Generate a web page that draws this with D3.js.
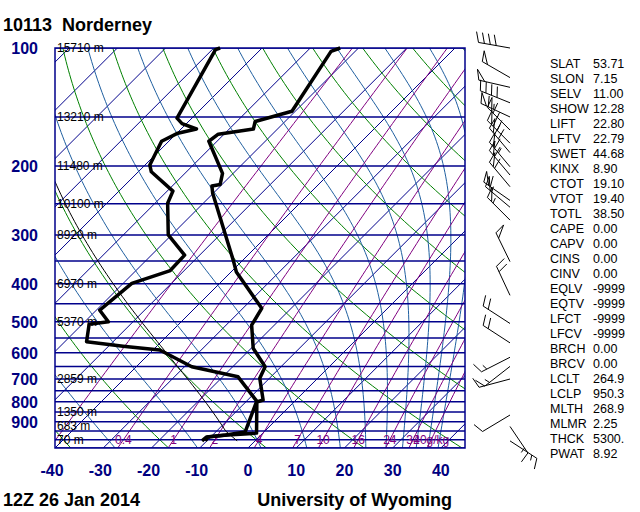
<!DOCTYPE html>
<html>
<head>
<meta charset="utf-8">
<script src="https://cdn.jsdelivr.net/npm/d3@7"></script>
<style>
body { margin: 0; background: #fff; }
text { font-family: "Liberation Sans", Arial, sans-serif; }
</style>
</head>
<body>
<div id="skewt"></div>
<script>
var w = 640;
var h = 512;

// sounding (hPa, degC)
var tempPres = [100, 102, 145, 154, 161, 166, 173, 209, 223, 225, 235, 348, 373, 462, 510, 584, 651, 697, 792, 801, 962, 967, 973, 984, 1007];
var tempVals = [-63.8, -65.0, -60.7, -66.2, -65.0, -71.2, -71.7, -62.2, -60.4, -61.8, -60.1, -42.0, -38.9, -26.1, -24.7, -19.6, -13.3, -12.0, -6.8, -7.7, -1.3, -3.6, -7.0, -10.6, -10.3];
var dewPres = [100, 101, 151, 156, 161, 165, 173, 199, 207, 232, 249, 300, 338, 370, 399, 467, 500, 507, 562, 577, 590, 651, 691, 797, 956, 973, 984, 1007];
var dewVals = [-88.7, -89.3, -83.1, -80.9, -76.8, -79.8, -81.5, -79.0, -77.3, -68.8, -67.4, -60.7, -53.1, -52.9, -58.2, -59.3, -55.1, -58.6, -55.5, -47.0, -38.6, -28.5, -16.8, -7.9, -3.9, -7.3, -10.9, -11.0];

// winds: pressure (hPa), direction (deg), speed (kt)
var windPres = [100, 119, 126, 138, 150, 162, 175, 185, 201, 211, 226, 245, 255, 275, 351, 428, 505, 566, 616, 650, 700, 865, 925, 1007];
var windDir  = [280, 300, 283, 292, 295, 315, 315, 320, 320, 320, 320, 305, 310, 315, 334, 335, 303, 303, 243, 232, 255, 239, 146, 123];
var windSpd  = [40, 50, 50, 40, 65, 65, 70, 70, 65, 60, 60, 60, 55, 55, 50, 20, 20, 20, 15, 15, 10, 10, 15, 15];

// axis labels
var pressureTicks = [100, 200, 300, 400, 500, 600, 700, 800, 900];
var tempTicks = [-40, -30, -20, -10, 0, 10, 20, 30, 40];
var heightPres = [100, 150, 200, 250, 300, 400, 500, 700, 850, 925, 1000];
var heightVals = ["15710", "13210", "11480", "10100", "8920", "6970", "5370", "2859", "1350", "683", "70"];

// background lines
var isobars = [100, 150, 200, 250, 300, 350, 400, 450, 500, 550, 600, 650, 700, 750, 800, 850, 900, 950, 1000, 1050];
var isotherms = [-120, -110, -100, -90, -80, -70, -60, -50, -40, -30, -20, -10, 0, 10, 20, 30, 40];
var dryAdiabats = [-40, -20, 0, 20, 40, 60, 80, 100, 120, 140, 160, 180]; // theta, degC
var moistAdiabats = [243.15, 263.15, 283.15, 303.15, 323.15, 343.15, 363.15, 383.15, 403.15, 423.15, 443.15]; // theta-e, K
var mixingRatios = [0.1, 0.4, 1, 2, 4, 7, 10, 16, 24, 32, 40];
var mixingLabels = [0.4, 1, 2, 4, 7, 10, 16, 24, 32, 40];

// station indices
var statNames = ["SLAT", "SLON", "SELV", "SHOW", "LIFT", "LFTV", "SWET", "KINX", "CTOT", "VTOT", "TOTL", "CAPE", "CAPV", "CINS", "CINV", "EQLV", "EQTV", "LFCT", "LFCV", "BRCH", "BRCV", "LCLT", "LCLP", "MLTH", "MLMR", "THCK", "PWAT"];
var statValues = ["53.71", "7.15", "11.00", "12.28", "22.80", "22.79", "44.68", "8.90", "19.10", "19.40", "38.50", "0.00", "0.00", "0.00", "0.00", "-9999", "-9999", "-9999", "-9999", "0.00", "0.00", "264.9", "950.3", "268.9", "2.25", "5300.", "8.92"];

var parcelStart = 1007, parcelTheta = 268.9, parcelLcl = 950.3;

var margin = {top: 48, right: 175, bottom: 64, left: 55},
    width = w - margin.left - margin.right,
    height = h - margin.top - margin.bottom;

var svg = d3.select("#skewt").append("svg")
    .attr("width", w)
    .attr("height", h);

var g = svg.append("g")
    .attr("transform", "translate(" + margin.left + "," + margin.top + ")");

var y = d3.scaleLog().domain([100, 1050]).range([0, height]);
var x = d3.scaleLinear().domain([-40, 45]).range([0, width]);

// skewed x: isotherms lean 45 degrees
function sx(t, p) { return x(t) + height - y(p); }

var pSteps = d3.range(0, 91).map(function(i) { return 1050 * Math.pow(100 / 1050, i / 90); });

function thetaE(tk, p) {
  var tc = tk - 273.15,
      es = 6.112 * Math.exp(17.67 * tc / (tc + 243.5));
  if (es > p * 0.3) return 1e4;
  var ws = 0.622 * es / (p - es);
  return tk * Math.pow(1000 / p, 0.2857) * Math.exp(2.5e6 * ws / (1004 * tk));
}
function satT(te, p) {
  var lo = 120, hi = 340;
  for (var i = 0; i < 40; i++) {
    var mid = (lo + hi) / 2;
    if (thetaE(mid, p) > te) hi = mid; else lo = mid;
  }
  return (lo + hi) / 2 - 273.15;
}
function tdFromW(wr, p) {
  var e = wr * p / (622 + wr), L = Math.log(e / 6.112);
  return 243.5 * L / (17.67 - L);
}

var line = d3.line()
    .x(function(d) { return sx(d.t, d.p); })
    .y(function(d) { return y(d.p); });

svg.append("defs").append("clipPath").attr("id", "clip")
  .append("rect").attr("width", width).attr("height", height);

var bg = g.append("g").attr("clip-path", "url(#clip)");

// isotherms
bg.selectAll(".isotherm")
  .data(isotherms)
  .enter().append("line")
    .attr("x1", function(d) { return sx(d, 1050); })
    .attr("y1", y(1050))
    .attr("x2", function(d) { return sx(d, 100); })
    .attr("y2", y(100))
    .attr("stroke", "#00008b")
    .attr("stroke-width", 1);

// dry adiabats
bg.selectAll(".dry")
  .data(dryAdiabats)
  .enter().append("path")
    .attr("fill", "none")
    .attr("stroke", "#008000")
    .attr("stroke-width", 1)
    .attr("d", function(th) {
      return line(pSteps.map(function(p) {
        return {p: p, t: (th + 273.15) * Math.pow(p / 1000, 0.2857) - 273.15};
      }));
    });

// moist adiabats
bg.selectAll(".moist")
  .data(moistAdiabats)
  .enter().append("path")
    .attr("fill", "none")
    .attr("stroke", "#1f5fa0")
    .attr("stroke-width", 1)
    .attr("d", function(te) {
      return line(pSteps.map(function(p) { return {p: p, t: satT(te, p)}; }));
    });

// mixing ratio lines
bg.selectAll(".mix")
  .data(mixingRatios)
  .enter().append("path")
    .attr("fill", "none")
    .attr("stroke", "#800080")
    .attr("stroke-width", 1)
    .attr("d", function(wr) {
      return line(pSteps.map(function(p) { return {p: p, t: tdFromW(wr, p)}; }));
    });

// isobars
bg.selectAll(".isobar")
  .data(isobars)
  .enter().append("line")
    .attr("x1", 0)
    .attr("x2", width)
    .attr("y1", function(d) { return y(d); })
    .attr("y2", function(d) { return y(d); })
    .attr("stroke", "#00008b")
    .attr("stroke-width", 1.5);

g.append("rect")
    .attr("width", width)
    .attr("height", height)
    .attr("fill", "none")
    .attr("stroke", "#00008b")
    .attr("stroke-width", 1.5);

// heights of standard levels
g.selectAll(".hgt")
  .data(heightPres)
  .enter().append("text")
    .attr("x", 2)
    .attr("y", function(d) { return y(d) + 4; })
    .attr("font-size", "12px")
    .attr("fill", "#000")
    .text(function(d, i) { return heightVals[i] + " m"; });

// mixing ratio labels
g.selectAll(".mixlab")
  .data(mixingLabels)
  .enter().append("text")
    .attr("x", function(d) { return sx(tdFromW(d, 1000), 1000); })
    .attr("y", y(1000) + 4)
    .attr("text-anchor", "middle")
    .attr("font-size", "12px")
    .attr("fill", "#800080")
    .text(function(d, i) { return i === mixingLabels.length - 1 ? d + "g/kg" : d; });

// lifted parcel
var parcel = [];
pSteps.forEach(function(p) {
  if (p > parcelStart) return;
  if (p >= parcelLcl) parcel.push({p: p, t: parcelTheta * Math.pow(p / 1000, 0.2857) - 273.15});
});
var lclT = parcelTheta * Math.pow(parcelLcl / 1000, 0.2857) - 273.15;
parcel.unshift({p: parcelStart, t: parcelTheta * Math.pow(parcelStart / 1000, 0.2857) - 273.15});
parcel.push({p: parcelLcl, t: lclT});
var parcelTe = thetaE(lclT + 273.15, parcelLcl);
pSteps.forEach(function(p) {
  if (p < parcelLcl) parcel.push({p: p, t: satT(parcelTe, p)});
});
bg.append("path")
    .attr("fill", "none")
    .attr("stroke", "#000")
    .attr("stroke-width", 1)
    .attr("d", line(parcel));

// temperature and dewpoint
var tempData = tempPres.map(function(p, i) { return {p: p, t: tempVals[i]}; });
var dewData = dewPres.map(function(p, i) { return {p: p, t: dewVals[i]}; });

[tempData, dewData].forEach(function(data) {
  g.append("path")
      .attr("fill", "none")
      .attr("stroke", "#000")
      .attr("stroke-width", 3.5)
      .attr("stroke-linejoin", "round")
      .attr("d", line(data));
});

// wind barbs
function barb(px, py, dir, spd) {
  var r = dir * Math.PI / 180,
      ux = Math.sin(r), uy = -Math.cos(r),
      a = 70 * Math.PI / 180,
      bx = ux * Math.cos(a) - uy * Math.sin(a),
      by = ux * Math.sin(a) + uy * Math.cos(a),
      L = 32, bl = 11, gap = 6;
  var d = "M" + px + "," + py + "L" + (px + ux * L) + "," + (py + uy * L);
  var s = Math.round(spd / 5) * 5, pos = L;
  while (s >= 50) {
    var ax = px + ux * pos, ay = py + uy * pos;
    d += "M" + ax + "," + ay + "L" + (ax + bx * bl) + "," + (ay + by * bl) +
         "L" + (px + ux * (pos - gap)) + "," + (py + uy * (pos - gap));
    pos -= gap + 2; s -= 50;
  }
  while (s >= 10) {
    var fx = px + ux * pos, fy = py + uy * pos;
    d += "M" + fx + "," + fy + "L" + (fx + bx * bl) + "," + (fy + by * bl);
    pos -= gap; s -= 10;
  }
  if (s >= 5) {
    if (pos === L) pos -= gap;
    var hx = px + ux * pos, hy = py + uy * pos;
    d += "M" + hx + "," + hy + "L" + (hx + bx * bl / 2) + "," + (hy + by * bl / 2);
  }
  return d;
}

g.selectAll(".barb")
  .data(windPres)
  .enter().append("path")
    .attr("fill", "none")
    .attr("stroke", "#000")
    .attr("stroke-width", 1)
    .attr("d", function(p, i) { return barb(455, y(p), windDir[i], windSpd[i]); });

// pressure labels
svg.selectAll(".plab")
  .data(pressureTicks)
  .enter().append("text")
    .attr("x", 38)
    .attr("y", function(d) { return margin.top + y(d) + 6; })
    .attr("text-anchor", "end")
    .attr("font-size", "16px")
    .attr("font-weight", "bold")
    .attr("fill", "#000080")
    .text(function(d) { return d; });

// temperature labels
svg.selectAll(".tlab")
  .data(tempTicks)
  .enter().append("text")
    .attr("x", function(d) { return margin.left + x(d) + (d < 0 ? -3 : 0); })
    .attr("y", 476)
    .attr("text-anchor", "middle")
    .attr("font-size", "16px")
    .attr("font-weight", "bold")
    .attr("fill", "#000080")
    .text(function(d) { return d; });

svg.append("text")
    .attr("x", 3).attr("y", 31)
    .attr("font-size", "18px").attr("font-weight", "bold")
    .attr("xml:space", "preserve")
    .text("10113  Norderney");

svg.append("text")
    .attr("x", 3).attr("y", 506)
    .attr("font-size", "18px").attr("font-weight", "bold")
    .text("12Z 26 Jan 2014");

svg.append("text")
    .attr("x", 452).attr("y", 506)
    .attr("text-anchor", "end")
    .attr("font-size", "18px").attr("font-weight", "bold")
    .text("University of Wyoming");

// index table
var stats = svg.append("g").attr("font-size", "12.5px").attr("fill", "#000");
stats.selectAll(".sname")
  .data(statNames)
  .enter().append("text")
    .attr("x", 550)
    .attr("y", function(d, i) { return 67.5 + i * 15; })
    .text(function(d) { return d; });
stats.selectAll(".sval")
  .data(statValues)
  .enter().append("text")
    .attr("x", 593)
    .attr("y", function(d, i) { return 67.5 + i * 15; })
    .text(function(d) { return d; });
</script>
</body>
</html>
